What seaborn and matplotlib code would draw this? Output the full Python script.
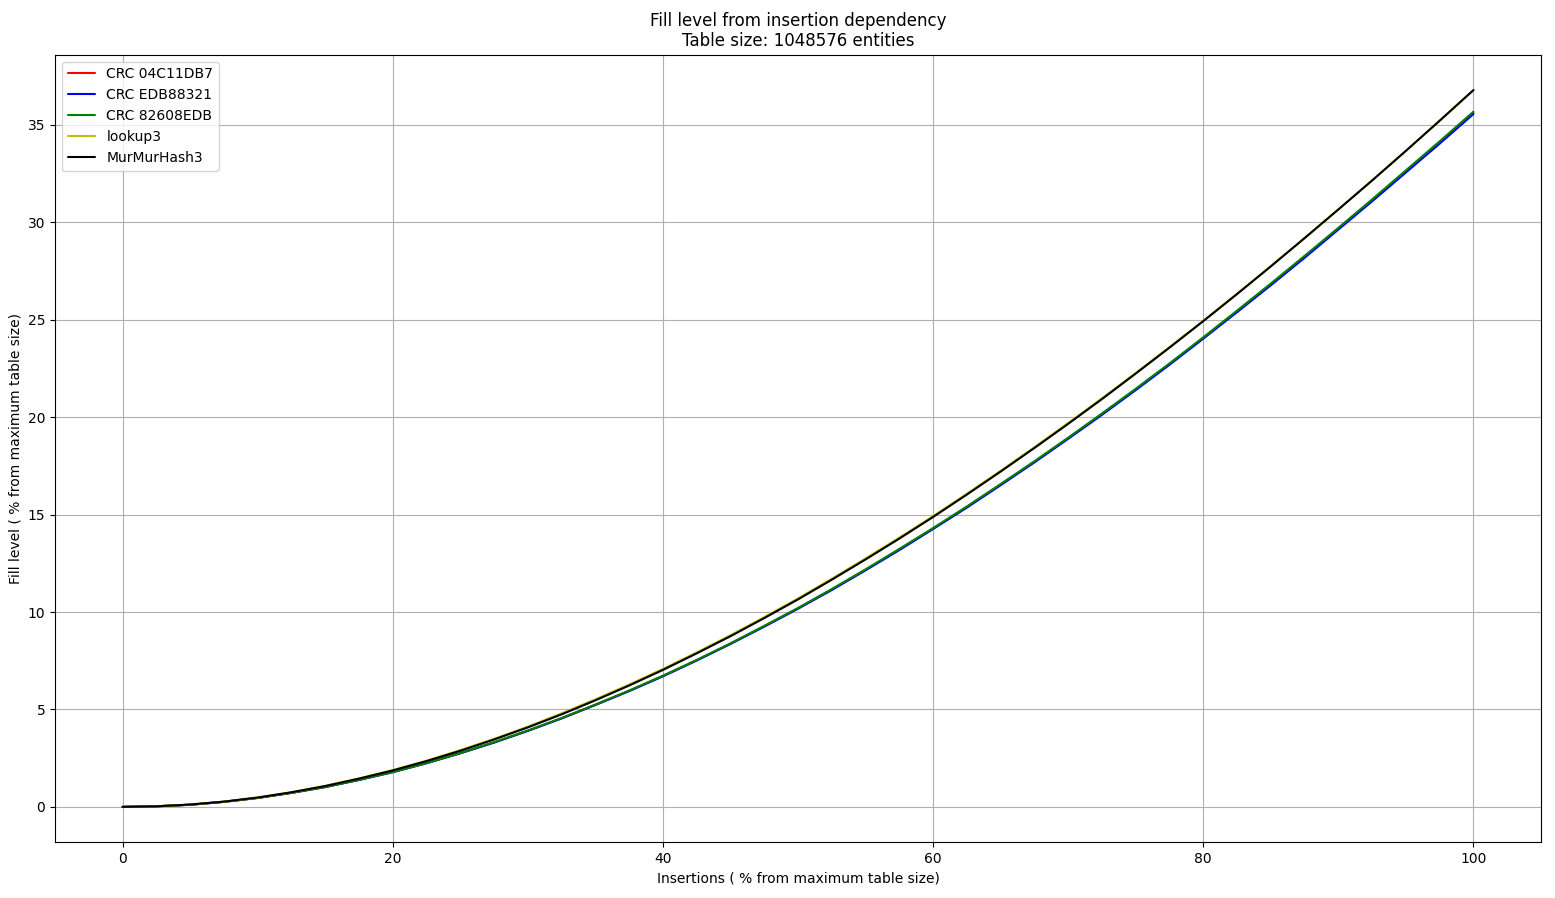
import pandas as pd
import matplotlib
matplotlib.use('Agg')
import matplotlib.pyplot as plt
import seaborn as sns

# %% data (every 2.5 % of insertions)

insertions = [0, 2.5, 5, 7.5, 10, 12.5, 15, 17.5, 20, 22.5, 25, 27.5, 30, 32.5,
              35, 37.5, 40, 42.5, 45, 47.5, 50, 52.5, 55, 57.5, 60, 62.5, 65,
              67.5, 70, 72.5, 75, 77.5, 80, 82.5, 85, 87.5, 90, 92.5, 95, 97.5, 100]

crc_04c11db7 = [0.00, 0.03, 0.11, 0.26, 0.46, 0.72, 1.02, 1.39, 1.79, 2.25, 2.76, 3.31, 3.91, 4.55,
                5.24, 5.96, 6.72, 7.53, 8.38, 9.27, 10.19, 11.16, 12.17, 13.21, 14.29, 15.39, 16.54,
                17.71, 18.92, 20.16, 21.43, 22.73, 24.07, 25.43, 26.82, 28.23, 29.68, 31.13, 32.62, 34.10, 35.62]
crc_edb88321 = [0.00, 0.03, 0.11, 0.26, 0.46, 0.72, 1.02, 1.38, 1.78, 2.24, 2.75, 3.30, 3.90, 4.54,
                5.23, 5.94, 6.70, 7.51, 8.36, 9.25, 10.17, 11.13, 12.14, 13.18, 14.26, 15.36, 16.51,
                17.68, 18.89, 20.12, 21.39, 22.69, 24.03, 25.39, 26.77, 28.18, 29.63, 31.08, 32.56, 34.04, 35.56]
crc_82608edb = [0.00, 0.03, 0.11, 0.26, 0.46, 0.72, 1.02, 1.39, 1.79, 2.25, 2.76, 3.32, 3.92, 4.56,
                5.25, 5.97, 6.73, 7.54, 8.39, 9.29, 10.21, 11.18, 12.19, 13.24, 14.31, 15.42, 16.57,
                17.74, 18.95, 20.19, 21.46, 22.76, 24.10, 25.47, 26.86, 28.28, 29.72, 31.18, 32.67, 34.16, 35.68]
lookup3 = [0.00, 0.03, 0.12, 0.27, 0.48, 0.75, 1.08, 1.46, 1.89, 2.37, 2.91, 3.49, 4.12, 4.80,
           5.52, 6.28, 7.08, 7.93, 8.81, 9.74, 10.70, 11.71, 12.75, 13.82, 14.92, 16.07, 17.25,
           18.46, 19.70, 20.97, 22.27, 23.60, 24.95, 26.34, 27.75, 29.20, 30.67, 32.15, 33.67, 35.21, 36.78]
murmur3 = [0.00, 0.03, 0.12, 0.27, 0.48, 0.75, 1.07, 1.45, 1.87, 2.35, 2.88, 3.46, 4.08, 4.75,
           5.47, 6.23, 7.03, 7.88, 8.76, 9.69, 10.65, 11.66, 12.70, 13.77, 14.88, 16.03, 17.21,
           18.42, 19.66, 20.93, 22.24, 23.57, 24.93, 26.32, 27.74, 29.19, 30.66, 32.15, 33.67, 35.22, 36.79]

series_names = ['CRC 04C11DB7', 'CRC EDB88321', 'CRC 82608EDB', 'lookup3', 'MurMurHash3']
series_values = [crc_04c11db7, crc_edb88321, crc_82608edb, lookup3, murmur3]
colors = ['#ff0000', '#0000ff', '#008000', '#bfbf00', '#000000']

rows = []
for name, vals in zip(series_names, series_values):
    for x, y in zip(insertions, vals):
        rows.append({'Insertions': x, 'Fill': y, 'Hash': name})
df = pd.DataFrame(rows)

# %% plot

sns.set_style('ticks')
plt.rcParams['font.family'] = ['DejaVu Sans']
plt.rcParams['font.size'] = 10
plt.rcParams['text.color'] = 'black'
plt.rcParams['axes.labelcolor'] = 'black'
plt.rcParams['xtick.color'] = 'black'
plt.rcParams['ytick.color'] = 'black'

fig, ax = plt.subplots(figsize=(15.55, 8.98), dpi=100)
fig.subplots_adjust(left=0.0354, right=0.991, top=0.939, bottom=0.0624)

sns.lineplot(data=df, x='Insertions', y='Fill', hue='Hash', hue_order=series_names,
             palette=colors, linewidth=1.5, ax=ax)

ax.set_xlim(-5, 105)
ax.set_ylim(-1.8, 38.6)
ax.set_xticks([0, 20, 40, 60, 80, 100])
ax.set_yticks([0, 5, 10, 15, 20, 25, 30, 35])
ax.grid(True, color='#b0b0b0', linewidth=0.8)
for s in ax.spines.values():
    s.set_color('black')
    s.set_linewidth(0.8)
ax.tick_params(colors='black', labelcolor='black', labelsize=10, length=3.5, width=0.8)

ax.set_title('Fill level from insertion dependency\nTable size: 1048576 entities',
             fontsize=12, color='black')
ax.set_xlabel('Insertions ( % from maximum table size)', fontsize=10, color='black')
ax.set_ylabel('Fill level ( % from maximum table size)', fontsize=10, color='black')

leg = ax.legend(loc='upper left', fontsize=10, frameon=True)
leg.get_frame().set_edgecolor('#cccccc')
for t in leg.get_texts():
    t.set_color('black')

fig.savefig('out.png', dpi=100)
